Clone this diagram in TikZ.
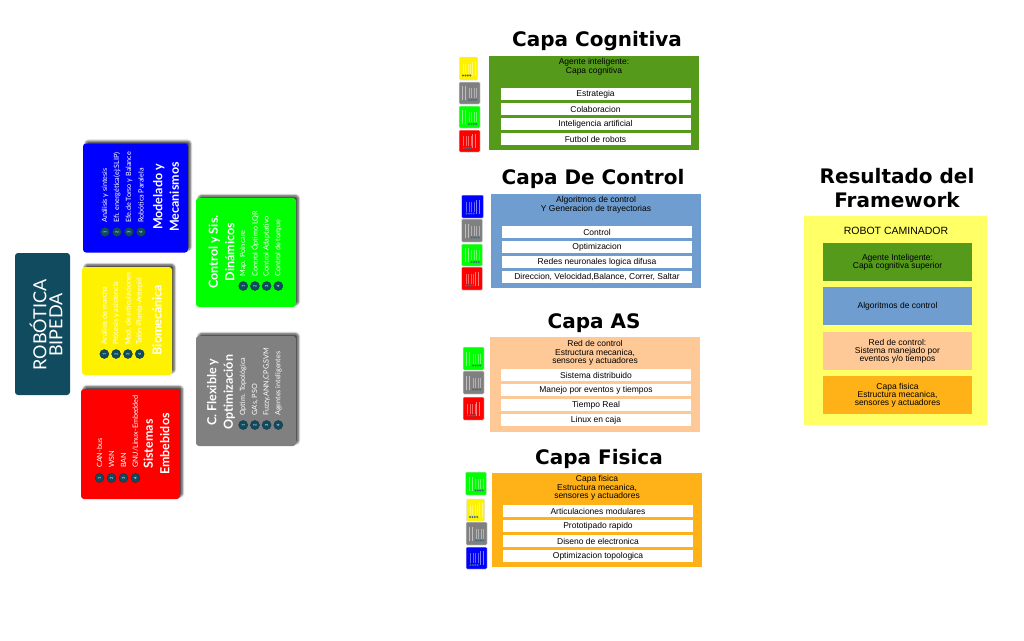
\documentclass[tikz,border=0pt]{standalone}
\usepackage{xcolor}
\usepackage{fontspec}
\setmainfont{Liberation Sans}
\newfontfamily\cardfont{Lato}
\newfontfamily\headfont{DejaVu Sans}
\usetikzlibrary{positioning,shadows,shadows.blur}

\definecolor{darkteal}{HTML}{114B5F}
\definecolor{capagreen}{HTML}{569A1B}
\definecolor{capablue}{HTML}{6F9DCF}
\definecolor{capapeach}{HTML}{FFC997}
\definecolor{capaorange}{HTML}{FFB118}
\definecolor{capayellow}{HTML}{FFFF66}

% small copy of a card: name, colour, cx, cy, w, h, first item offset, first title offset
\newcommand{\thumbcard}[8]{
    \node (#1) [thumb, fill=#2, minimum width=#5, minimum height=#6] at (#3,#4) {};
    \foreach \i in {0,1,2,3} {
        \draw [white, line width=.3pt, opacity=.4] (#3+#7+2.4*\i,#4+5) -- (#3+#7+2.4*\i,#4-5);
        \fill [darkteal!80] (#3+#7+2.4*\i,#4+7) circle (1.1);
    }
    \foreach \i in {0,1}
        \draw [white, line width=.5pt, opacity=.5] (#3+#8+3.2*\i,#4+7) -- (#3+#8+3.2*\i,#4-7);
}

\begin{document}
\begin{tikzpicture}
[x=1pt, y=-1pt,
    card/.style={rectangle, rounded corners=3pt, inner sep=0pt, text=white,
        blur shadow={shadow xshift=2.5pt, shadow yshift=2.5pt, shadow blur radius=2pt, shadow blur steps=6, shadow opacity=70}},
    cardtitle/.style={rotate=90, align=center, text=white, inner sep=0pt,
        font=\cardfont\bfseries\fontsize{12.5}{16.5}\selectfont},
    cardtext/.style={rotate=90, anchor=west, text=white, inner sep=0pt,
        font=\cardfont\fontsize{7.2}{9}\selectfont},
    carddot/.style={circle, fill=darkteal, draw=darkteal!70!black, minimum size=9pt, inner sep=0pt,
        rotate=90, text=white, font=\cardfont\fontsize{4}{4}\selectfont},
    thumb/.style={rectangle, rounded corners=1pt, inner sep=0pt, draw=black!12, line width=.5pt},
    capatitle/.style={inner sep=0pt, align=center, font=\headfont\bfseries\fontsize{20}{23.5}\selectfont},
    capabox/.style={rectangle, inner sep=0pt, minimum width=210, minimum height=94.5},
    capahead/.style={inner sep=0pt, align=center, font=\fontsize{8.5}{8.6}\selectfont},
    capaitem/.style={rectangle, fill=white, inner sep=0pt, minimum width=190, minimum height=12,
        font=\fontsize{8.5}{9}\selectfont},
    resbox/.style={rectangle, inner sep=0pt, minimum width=149, minimum height=38,
        align=center, font=\fontsize{8.5}{8.2}\selectfont}
    ]
    \useasboundingbox (0,0) rectangle (1024,640);

    % left side
    \node (robotica) [rectangle, rounded corners=3pt, fill=darkteal, minimum width=55, minimum height=142] at (42.5,324) {};
    \node (roboticatxt) [rotate=90, align=center, text=white, inner sep=0pt,
        font=\cardfont\fontsize{18}{16}\selectfont] at (46,325) {ROBÓTICA\\BIPEDA};

    \node (modelado) [card, fill=blue, minimum width=105, minimum height=109] at (135.5,198) {};
    \node (modeladotit) [cardtitle] at (166,197) {Modelado y\\Mecanismos};
    \foreach \txt [count=\i] in {Análisis y síntesis, Efi. energética(ej:SLIP), Efe.de Torso y Balance, Robótica Paralela} {
        \node (modeladodot\i) [carddot] at (93+12*\i,232) {\i};
        \node (modeladoitem\i) [cardtext] at (93+12*\i,223) {\txt};
    }

    \node (bio) [card, fill=yellow, minimum width=90, minimum height=108] at (127,321) {};
    \node (biotit) [cardtitle] at (157,320) {Biomecánica};
    \foreach \txt [count=\i] in {Análisis de marcha, Prótesis y asistencia, Mod. de articulaciones, Talón-Planta-Antepié} {
        \node (biodot\i) [carddot] at (92.5+11.8*\i,354) {\i};
        \node (bioitem\i) [cardtext] at (92.5+11.8*\i,345) {\txt};
    }

    \node (embebidos) [card, fill=red, minimum width=99, minimum height=110] at (130.5,444) {};
    \node (embebidostit) [cardtitle] at (156.5,444) {Sistemas\\Embebidos};
    \foreach \txt [count=\i] in {CAN-bus, WSN, BAN, GNU/Linux-Embedded} {
        \node (embebidosdot\i) [carddot] at (87.5+12*\i,478) {\i};
        \node (embebidositem\i) [cardtext] at (87.5+12*\i,468) {\txt};
    }

    \node (control) [card, fill=green, minimum width=100, minimum height=109] at (246,252.5) {};
    \node (controltit) [cardtitle] at (221.5,252) {Control y Sis.\\Dinámicos};
    \foreach \txt [count=\i] in {Map. Poincare, Control Óptimo LQR, Control Adaptativo, Control de torque} {
        \node (controldot\i) [carddot] at (231.5+11.7*\i,286) {\i};
        \node (controlitem\i) [cardtext] at (231.5+11.7*\i,276.5) {\txt};
    }

    \node (flexible) [card, fill=black!50, minimum width=100, minimum height=110] at (246,391) {};
    \node (flexibletit) [cardtitle] at (221,392) {C. Flexible y\\Optimización};
    \foreach \txt [count=\i] in {Optim. Topológica, {GA's, PSO}, {Fuzzy,ANN,CPG,SVM}, Agentes inteligentes} {
        \node (flexibledot\i) [carddot] at (231.5+11.7*\i,425) {\i};
        \node (flexibleitem\i) [cardtext] at (231.5+11.7*\i,416) {\txt};
    }

    % capa cognitiva
    \node (cognitivatit) [capatitle] at (597,41) {Capa Cognitiva};
    \node (cognitiva) [capabox, fill=capagreen] at (594,103) {};
    \node (cognitivahead) [capahead] at (594,66.5) {Agente inteligente:\\Capa cognitiva};
    \foreach \txt [count=\i] in {Estrategia, Colaboracion, Inteligencia artificial, Futbol de robots}
        \node (cognitivaitem\i) [capaitem] at (595.5,79+15*\i) {\txt};
    \thumbcard{cogyellow}{yellow}{468.5}{68.5}{18}{23}{-5.5}{4}
    \thumbcard{coggray}{black!50}{469.5}{93}{21}{22}{-.5}{-7}
    \thumbcard{coggreen}{green}{469.5}{117}{21}{22}{-.5}{-7}
    \thumbcard{cogred}{red}{469.5}{141}{21}{22}{-6}{3}

    % capa de control
    \node (controlcapatit) [capatitle] at (593,179) {Capa De Control};
    \node (controlcapa) [capabox, fill=capablue] at (595.5,241) {};
    \node (controlcapahead) [capahead] at (596,205) {Algoritmos de control\\Y Generacion de trayectorias};
    \foreach \txt [count=\i] in {Control, Optimizacion, Redes neuronales logica difusa, {Direccion, Velocidad,Balance, Correr, Saltar}}
        \node (controlcapaitem\i) [capaitem] at (597,217+15*\i) {\txt};
    \thumbcard{ctlblue}{blue}{472.5}{206.5}{22}{23}{-6}{4}
    \thumbcard{ctlgray}{black!50}{472}{230.5}{21}{23}{-.5}{-7}
    \thumbcard{ctlgreen}{green}{472}{255}{21}{22}{-.5}{-7}
    \thumbcard{ctlred}{red}{472}{278.5}{21}{23}{-6}{3}

    % capa as
    \node (astit) [capatitle] at (594,323) {Capa AS};
    \node (as) [capabox, fill=capapeach] at (594.5,384.5) {};
    \node (ashead) [capahead] at (595,353) {Red de control\\Estructura mecanica,\\sensores y actuadores};
    \foreach \txt [count=\i] in {Sistema distribuido, Manejo por eventos y tiempos, Tiempo Real, Linux en caja}
        \node (asitem\i) [capaitem] at (596,360+15.1*\i) {\txt};
    \thumbcard{asgreen}{green}{473.5}{358.5}{21}{23}{-.5}{-7}
    \thumbcard{asgray}{black!50}{473.5}{382.5}{21}{23}{-.5}{-7}
    \thumbcard{asred}{red}{473.5}{408.5}{21}{23}{-6}{3}

    % capa fisica
    \node (fisicatit) [capatitle] at (599,459) {Capa Fisica};
    \node (fisica) [capabox, fill=capaorange] at (597,520) {};
    \node (fisicahead) [capahead] at (597,488) {Capa fisica\\Estructura mecanica,\\sensores y actuadores};
    \foreach \txt [count=\i] in {Articulaciones modulares, Prototipado rapido, Diseno de electronica, Optimizacion topologica}
        \node (fisicaitem\i) [capaitem] at (598,496+15*\i) {\txt};
    \thumbcard{fisgreen}{green}{476}{483.5}{21}{23}{-.5}{-7}
    \thumbcard{fisyellow}{yellow}{475.5}{510}{18}{22}{-5.5}{4}
    \thumbcard{fisgray}{black!50}{476.5}{533.5}{21}{23}{-.5}{-7}
    \thumbcard{fisblue}{blue}{476.5}{558}{21}{22}{-6}{4}

    % resultado
    \node (resultadotit) [capatitle] at (897,188) {Resultado del\\Framework};
    \node (resultado) [rectangle, fill=capayellow, inner sep=0pt, minimum width=183, minimum height=209] at (895.5,320.5) {};
    \node (robot) [inner sep=0pt, font=\fontsize{10.5}{12}\selectfont] at (896,231) {ROBOT CAMINADOR};
    \node (resagente) [resbox, fill=capagreen] at (897.5,262) {Agente Inteligente:\\Capa cognitiva superior};
    \node (resalgo) [resbox, fill=capablue] at (897.5,306) {Algoritmos de control};
    \node (resred) [resbox, fill=capapeach] at (897.5,351) {Red de control:\\Sistema manejado por\\eventos y/o tiempos};
    \node (resfisica) [resbox, fill=capaorange] at (897.5,395) {Capa fisica\\Estructura mecanica,\\sensores y actuadores};
\end{tikzpicture}
\end{document}
